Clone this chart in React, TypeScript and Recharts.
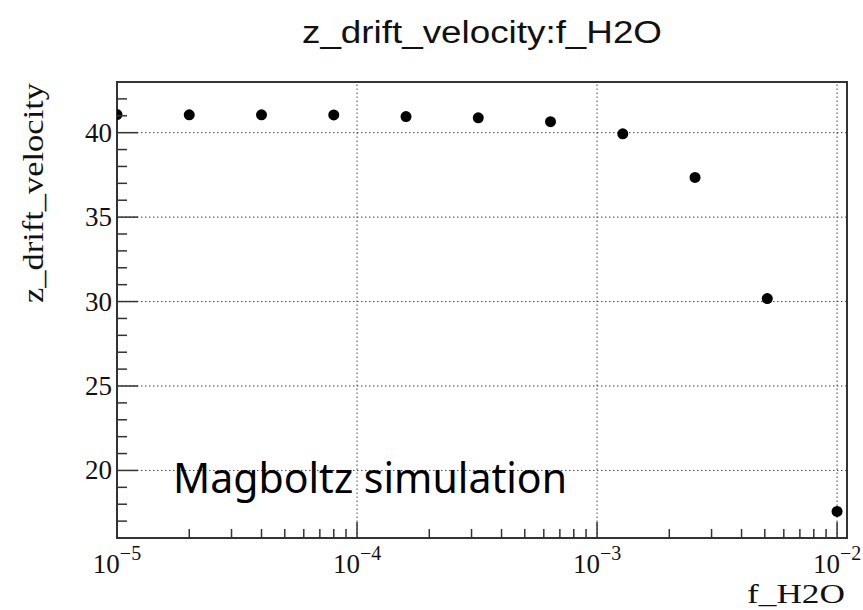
import { ScatterChart, Scatter, XAxis, YAxis, ReferenceLine, ReferenceArea } from 'recharts';

// water fraction scan (log steps) and the drift velocity from Magboltz
const fH2O = [1e-5, 2e-5, 4e-5, 8e-5, 1.6e-4, 3.2e-4, 6.4e-4, 1.28e-3, 2.56e-3, 5.12e-3, 1e-2];
const driftVelocity = [41.07, 41.06, 41.06, 41.05, 40.95, 40.88, 40.65, 39.93, 37.35, 30.18, 17.57];

const xDecades = [1e-5, 1e-4, 1e-3, 1e-2];
const xMinorMantissas = [2, 3, 4, 5, 6, 7, 8, 9];
const yMajorTicks = [20, 25, 30, 35, 40];
const yMinorTicks = [17, 18, 19, 21, 22, 23, 24, 26, 27, 28, 29, 31, 32, 33, 34, 36, 37, 38, 39, 41, 42];

const title = 'z_drift_velocity:f_H2O';
const xTitle = 'f_H2O';
const yTitle = 'z_drift_velocity';
const note = 'Magboltz simulation';

const points = fH2O.map((f, i) => ({ f, v: driftVelocity[i] }));
const xMinorTicks = xDecades.slice(0, 3).flatMap(d => xMinorMantissas.map(m => m * d));
const xTicks = [...xDecades, ...xMinorTicks].sort((a, b) => a - b);
const yTicks = [...yMajorTicks, ...yMinorTicks].sort((a, b) => a - b);

const W = 863;
const H = 610;
const AXIS = '#333';
const SERIF = '"Liberation Serif", "DejaVu Serif", serif';

const isDecade = (v: number) => Math.abs(Math.log10(v) - Math.round(Math.log10(v))) < 1e-6;

function XTick(props: any) {
  const { x, y, payload } = props;
  const v = payload.value;
  const major = isDecade(v);
  return (
    <g>
      <line x1={x} x2={x} y1={y} y2={y - (major ? 16 : 9)} stroke={AXIS} strokeWidth={1.5} />
      {major && (
        <text x={x} y={y + 35} textAnchor="middle" fontFamily={SERIF} fontSize={27} fill="#111">
          <tspan>10</tspan>
          <tspan dy={-13} fontSize={20}>{'\u2212' + Math.abs(Math.round(Math.log10(v)))}</tspan>
        </text>
      )}
    </g>
  );
}

function YTick(props: any) {
  const { x, y, payload } = props;
  const major = yMajorTicks.includes(payload.value);
  return (
    <g>
      <line x1={x} x2={x + (major ? 21 : 10)} y1={y} y2={y} stroke={AXIS} strokeWidth={1.5} />
      {major && (
        <text x={x - 5} y={y + 9} textAnchor="end" fontFamily={SERIF} fontSize={27} fill="#111">
          {payload.value}
        </text>
      )}
    </g>
  );
}

const Dot = (props: any) => <circle cx={props.cx} cy={props.cy} r={5.5} fill="#000" />;

export default function App() {
  return (
    <div style={{ position: 'absolute', left: 0, top: 0, width: W, height: H, background: '#fff' }}>
      <ScatterChart width={W} height={H} margin={{ top: 82, right: 16, left: 0, bottom: 0 }}>
        {xDecades.slice(1).map(d => (
          <ReferenceLine key={'gx' + d} x={d} stroke="#444" strokeWidth={1} strokeDasharray="1.5 2.5" />
        ))}
        {yMajorTicks.map(t => (
          <ReferenceLine key={'gy' + t} y={t} stroke="#444" strokeWidth={1} strokeDasharray="1.5 2.5" />
        ))}
        <XAxis
          type="number"
          dataKey="f"
          scale="log"
          domain={[1e-5, 0.011]}
          allowDataOverflow
          ticks={xTicks}
          interval={0}
          tick={<XTick />}
          tickLine={false}
          axisLine={false}
          tickSize={0}
          tickMargin={0}
          height={72}
        />
        <YAxis
          type="number"
          dataKey="v"
          domain={[16, 43]}
          allowDataOverflow
          ticks={yTicks}
          interval={0}
          tick={<YTick />}
          tickLine={false}
          axisLine={false}
          tickSize={0}
          tickMargin={0}
          width={117}
        />
        <ReferenceArea x1={1e-5} x2={0.011} y1={16} y2={43} fill="none" stroke={AXIS} strokeWidth={2} fillOpacity={0} />
        <Scatter data={points} shape={<Dot />} isAnimationActive={false} />
      </ScatterChart>
      <svg width={W} height={H} style={{ position: 'absolute', left: 0, top: 0, pointerEvents: 'none' }}>
        <text x={482} y={43} textAnchor="middle" fontFamily='"Liberation Sans", Arial, sans-serif' fontSize={31}
          textLength={360} lengthAdjust="spacingAndGlyphs" fill="#111">{title}</text>
        <text transform="translate(43,193) rotate(-90)" textAnchor="middle" fontFamily={SERIF} fontSize={30}
          textLength={220} lengthAdjust="spacingAndGlyphs" fill="#111">{yTitle}</text>
        <text x={845} y={603} textAnchor="end" fontFamily={SERIF} fontSize={27}
          textLength={98} lengthAdjust="spacingAndGlyphs" fill="#111">{xTitle}</text>
        <text x={173} y={493} fontFamily='"Noto Sans", "Open Sans", sans-serif' fontSize={42}
          textLength={394} lengthAdjust="spacingAndGlyphs" fill="#000">{note}</text>
      </svg>
    </div>
  );
}
